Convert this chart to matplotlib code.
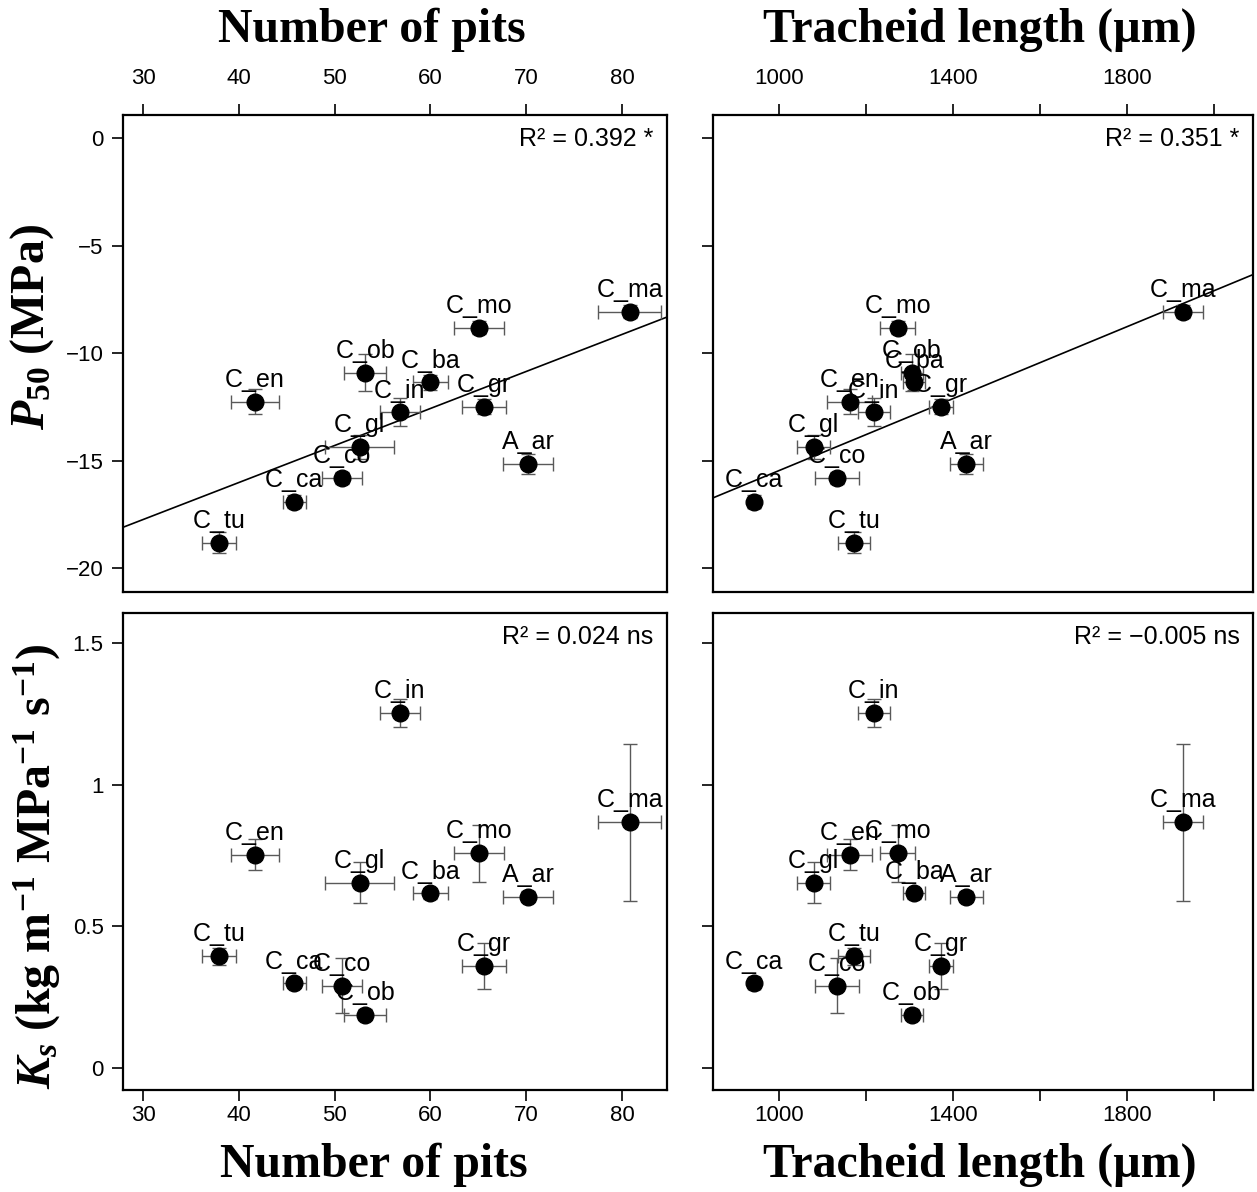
import numpy as np
import matplotlib
matplotlib.use("Agg")
import matplotlib.pyplot as plt

plt.rcParams['font.family'] = ['Liberation Sans', 'DejaVu Sans']
plt.rcParams['mathtext.fontset'] = 'custom'
plt.rcParams['mathtext.rm'] = 'Liberation Serif:bold'
plt.rcParams['mathtext.it'] = 'Liberation Serif:italic:bold'
plt.rcParams['mathtext.bf'] = 'Liberation Serif:bold'

# species
species = ['C_ma', 'C_mo', 'C_ob', 'C_ba', 'C_in', 'C_gr', 'C_en',
           'C_gl', 'A_ar', 'C_co', 'C_ca', 'C_tu']

# number of pits (mean, error)
pits = [80.8, 65.1, 53.2, 60.0, 56.8, 65.6, 41.7, 52.6, 70.2, 50.8, 45.8, 37.9]
pits_err = [3.3, 2.6, 2.2, 1.8, 2.1, 2.3, 2.5, 3.6, 2.6, 2.1, 1.2, 1.8]

# tracheid length (um)
trach = [1930, 1273, 1305, 1311, 1218, 1372, 1162, 1080, 1431, 1133, 943, 1172]
trach_err = [46, 40, 25, 25, 36, 27, 52, 38, 37, 50, 14, 36]

# P50 (MPa)
p50 = [-8.07, -8.82, -10.9, -11.35, -12.75, -12.5, -12.25, -14.35, -15.15, -15.8, -16.9, -18.8]
p50_err = [0.3, 0.3, 0.85, 0.35, 0.65, 0.35, 0.6, 0.55, 0.45, 0.3, 0.3, 0.5]

# Ks (kg m-1 MPa-1 s-1)
ks = [0.868, 0.758, 0.188, 0.616, 1.254, 0.36, 0.753, 0.654, 0.605, 0.29, 0.298, 0.395]
ks_err = [0.277, 0.10, 0.02, 0.02, 0.05, 0.08, 0.055, 0.072, 0.02, 0.097, 0.015, 0.03]

r2_text = [['R² = 0.392 *', 'R² = 0.351 *'],
           ['R² = 0.024 ns', 'R² = \u22120.005 ns']]

W, H = 1257, 1192
fig = plt.figure(figsize=(W / 100, H / 100), dpi=100)

def box(l, t, r, b):
    return [l / W, 1 - b / H, (r - l) / W, (b - t) / H]

ax_tl = fig.add_axes(box(123, 115, 667, 592))
ax_tr = fig.add_axes(box(713, 115, 1253, 592))
ax_bl = fig.add_axes(box(123, 613, 667, 1090))
ax_br = fig.add_axes(box(713, 613, 1253, 1090))

panels = [(ax_tl, pits, pits_err, p50, p50_err),
          (ax_tr, trach, trach_err, p50, p50_err),
          (ax_bl, pits, pits_err, ks, ks_err),
          (ax_br, trach, trach_err, ks, ks_err)]

for ax, x, xe, y, ye in panels:
    ax.errorbar(x, y, xerr=xe, yerr=ye, fmt='o', color='black', ms=12,
                ecolor='0.35', elinewidth=1, capsize=5, capthick=1, zorder=3)
    for name, xi, yi in zip(species, x, y):
        ax.annotate(name, (xi, yi), xytext=(0, 7), textcoords='offset points',
                    ha='center', va='bottom', fontsize=18, zorder=4)
    for s in ax.spines.values():
        s.set_linewidth(1.6)
    ax.tick_params(length=8, width=1.2, labelsize=16, pad=6)

# limits and ticks
for ax in (ax_tl, ax_bl):
    ax.set_xlim(27.9, 84.7)
    ax.set_xticks([30, 40, 50, 60, 70, 80])
for ax in (ax_tr, ax_br):
    ax.set_xlim(848, 2090)
    ax.set_xticks([1000, 1200, 1400, 1600, 1800, 2000])
    ax.set_xticklabels(['1000', '', '1400', '', '1800', ''])
for ax in (ax_tl, ax_tr):
    ax.set_ylim(-21.1, 1.07)
    ax.set_yticks([0, -5, -10, -15, -20])
    ax.set_yticklabels(['0', '\u22125', '\u221210', '\u221215', '\u221220'])
    ax.xaxis.tick_top()
    ax.tick_params(axis='x', pad=11)
for ax in (ax_bl, ax_br):
    ax.set_ylim(-0.078, 1.606)
    ax.set_yticks([0, 0.5, 1, 1.5])
    ax.set_yticklabels(['0', '0.5', '1', '1.5'])
    ax.tick_params(axis='x', pad=3)
ax_tr.tick_params(axis='y', labelleft=False)
ax_br.tick_params(axis='y', labelleft=False)

# regression lines for P50
for ax, x in ((ax_tl, pits), (ax_tr, trach)):
    k, b = np.polyfit(x, p50, 1)
    xs = np.array(ax.get_xlim())
    ax.plot(xs, k * xs + b, color='black', lw=1.2, zorder=2)

for r in range(2):
    for c in range(2):
        ax = [[ax_tl, ax_tr], [ax_bl, ax_br]][r][c]
        ax.text(0.975, 0.975, r2_text[r][c], transform=ax.transAxes,
                ha='right', va='top', fontsize=18)

tfont = dict(family='Liberation Serif', weight='bold', fontsize=34.5)
fig.text(372 / W, 1 - 30 / H, 'Number of pits', ha='center', va='center', **tfont)
fig.text(980 / W, 1 - 30 / H, 'Tracheid length (\u00b5m)', ha='center', va='center', **tfont)
fig.text(374 / W, 1 - 1165 / H, 'Number of pits', ha='center', va='center', **tfont)
fig.text(980 / W, 1 - 1165 / H, 'Tracheid length (\u00b5m)', ha='center', va='center', **tfont)

fig.text(32 / W, 1 - 327 / H, r'$\mathit{P}_{\mathit{50}}$ (MPa)', rotation=90,
         ha='center', va='center', **tfont)
fig.text(37 / W, 1 - 866 / H,
         r'$\mathit{K}_{\mathit{s}}$ (kg m$^{\mathrm{-1}}$ MPa$^{\mathrm{-1}}$ s$^{\mathrm{-1}}$)',
         rotation=90, ha='center', va='center', **tfont)

fig.savefig('out.png', dpi=100)
